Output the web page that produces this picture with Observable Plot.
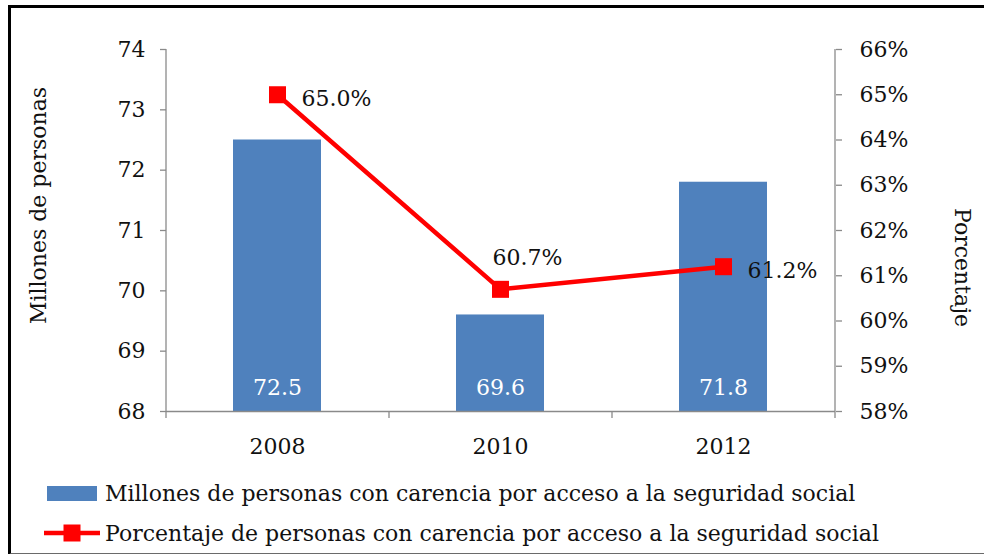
<!DOCTYPE html>
<html>
<head>
<meta charset="utf-8">
<script src="https://cdn.jsdelivr.net/npm/d3@7"></script>
<script src="https://cdn.jsdelivr.net/npm/@observablehq/plot@0.6"></script>
<style>
  html, body { margin: 0; padding: 0; background: #fff; }
  #wrap { position: relative; width: 984px; height: 554px; overflow: hidden; background: #fff;
          font-family: "DejaVu Serif", serif; color: #111; }
  #frame { position: absolute; left: 8px; top: 5px; width: 990px; height: 545px;
           border-left: 3px solid #000; border-top: 3px solid #000; border-bottom: 2px solid #6a6a6a; }
  #chart { position: absolute; left: 0; top: 0; }
  #legend { position: absolute; left: 0; top: 473px; font-size: 22px; }
  .row { display: flex; align-items: center; height: 40px; white-space: nowrap; }
</style>
</head>
<body>
<div id="wrap">
  <div id="frame"></div>
  <div id="chart"></div>
  <div id="legend"></div>
</div>
<script>
// ---- data ----
const years = ["2008", "2010", "2012"];
const millones = [72.5, 69.6, 71.8];
const porcentaje = [65.0, 60.7, 61.2];
const leftTicks = [68, 69, 70, 71, 72, 73, 74];
const rightTicks = [58, 59, 60, 61, 62, 63, 64, 65, 66];
const seriesNames = [
  "Millones de personas con carencia por acceso a la seguridad social",
  "Porcentaje de personas con carencia por acceso a la seguridad social"
];
const leftTitle = "Millones de personas";
const rightTitle = "Porcentaje";

// ---- layout ----
const W = 984, H = 470;
const mL = 166, mR = W - 835, mT = 49, mB = H - 411;
const step = (W - mL - mR) / years.length;
const yMin = leftTicks[0], yMax = leftTicks[leftTicks.length - 1];
const pMin = rightTicks[0], pMax = rightTicks[rightTicks.length - 1];
const toLeft = p => yMin + (p - pMin) * (yMax - yMin) / (pMax - pMin);
const fromLeft = v => pMin + (v - yMin) * (pMax - pMin) / (yMax - yMin);

const data = years.map((year, i) => ({year, m: millones[i], p: porcentaje[i]}));
const axisColor = "#8a8a8a";
const barColor = "#4F81BD";
const lineColor = "#FF0000";
const fs = 22;

const chart = Plot.plot({
  width: W, height: H,
  marginLeft: mL, marginRight: mR, marginTop: mT, marginBottom: mB,
  style: {fontFamily: "DejaVu Serif", fontSize: fs + "px", color: "#111", background: "transparent", overflow: "visible"},
  x: {domain: years, paddingInner: 0.605, paddingOuter: 0.3025, axis: null},
  y: {domain: [yMin, yMax], axis: null},
  marks: [
    Plot.barY(data, {x: "year", y1: yMin, y2: "m", fill: barColor}),
    // axis lines
    Plot.ruleY([yMin], {stroke: axisColor, strokeWidth: 1.3}),
    Plot.ruleX([years[0]], {dx: -step / 2, y1: yMin, y2: yMax, stroke: axisColor, strokeWidth: 1.3}),
    Plot.ruleX([years[years.length - 1]], {dx: step / 2, y1: yMin, y2: yMax, stroke: axisColor, strokeWidth: 1.3}),
    // x boundary ticks
    Plot.axisX({ticks: years, tickSize: 7, tickFormat: () => "", dx: -step / 2, stroke: axisColor, strokeWidth: 1.3, label: null}),
    Plot.axisX({ticks: [years[years.length - 1]], tickSize: 7, tickFormat: () => "", dx: step / 2, stroke: axisColor, strokeWidth: 1.3, label: null}),
    // x labels
    Plot.axisX({ticks: years, tickSize: 0, tickPadding: 27, fontSize: fs, fill: "#111", label: null}),
    // left axis
    Plot.axisY({anchor: "left", ticks: leftTicks, tickSize: 6, tickPadding: 15, stroke: axisColor, strokeWidth: 1.3,
                fontSize: fs, fill: "#111", label: null, tickFormat: d => String(d)}),
    // right axis
    Plot.axisY({anchor: "right", ticks: rightTicks.map(toLeft), tickSize: 6, tickPadding: 18, stroke: axisColor, strokeWidth: 1.3,
                fontSize: fs, fill: "#111", label: null, tickFormat: v => Math.round(fromLeft(v)) + "%"}),
    // bar value labels
    Plot.text(data, {x: "year", y: yMin, text: d => d.m.toFixed(1), fill: "#fff", fontSize: fs, dy: -24}),
    // line + markers
    Plot.line(data, {x: "year", y: d => toLeft(d.p), stroke: lineColor, strokeWidth: 4.5}),
    Plot.dot(data, {x: "year", y: d => toLeft(d.p), symbol: "square", r: 9.6, fill: lineColor, stroke: "none"}),
    // line value labels
    Plot.text(data, {filter: d => d.year !== "2010", x: "year", y: d => toLeft(d.p), text: d => d.p.toFixed(1) + "%",
                     textAnchor: "start", dx: 24, dy: 4, fontSize: fs, fill: "#111"}),
    Plot.text(data, {filter: d => d.year === "2010", x: "year", y: d => toLeft(d.p), text: d => d.p.toFixed(1) + "%",
                     dx: 27, dy: -31, fontSize: fs, fill: "#111"}),
    // axis titles
    Plot.text([leftTitle], {frameAnchor: "left", textAnchor: "middle", rotate: -90, dx: -128, dy: -25, fontSize: fs, fill: "#111"}),
    Plot.text([rightTitle], {frameAnchor: "right", textAnchor: "middle", rotate: 90, dx: 127, dy: 37, fontSize: fs, fill: "#111"})
  ]
});
document.getElementById("chart").append(chart);

// ---- legend ----
const legend = document.getElementById("legend");
function row(swatchHTML, label, gap) {
  const r = document.createElement("div");
  r.className = "row";
  r.innerHTML = swatchHTML + `<span style="margin-left:${gap}px">${label}</span>`;
  return r;
}
legend.append(row(`<span style="display:inline-block;margin-left:47px;width:50px;height:15px;background:${barColor}"></span>`, seriesNames[0], 8));
legend.append(row(`<svg width="56" height="20" style="margin-left:44px;display:block">
  <line x1="0" x2="56" y1="10" y2="10" stroke="${lineColor}" stroke-width="4.5"/>
  <rect x="19.5" y="1.5" width="17" height="17" fill="${lineColor}"/></svg>`, seriesNames[1], 5));
</script>
</body>
</html>
